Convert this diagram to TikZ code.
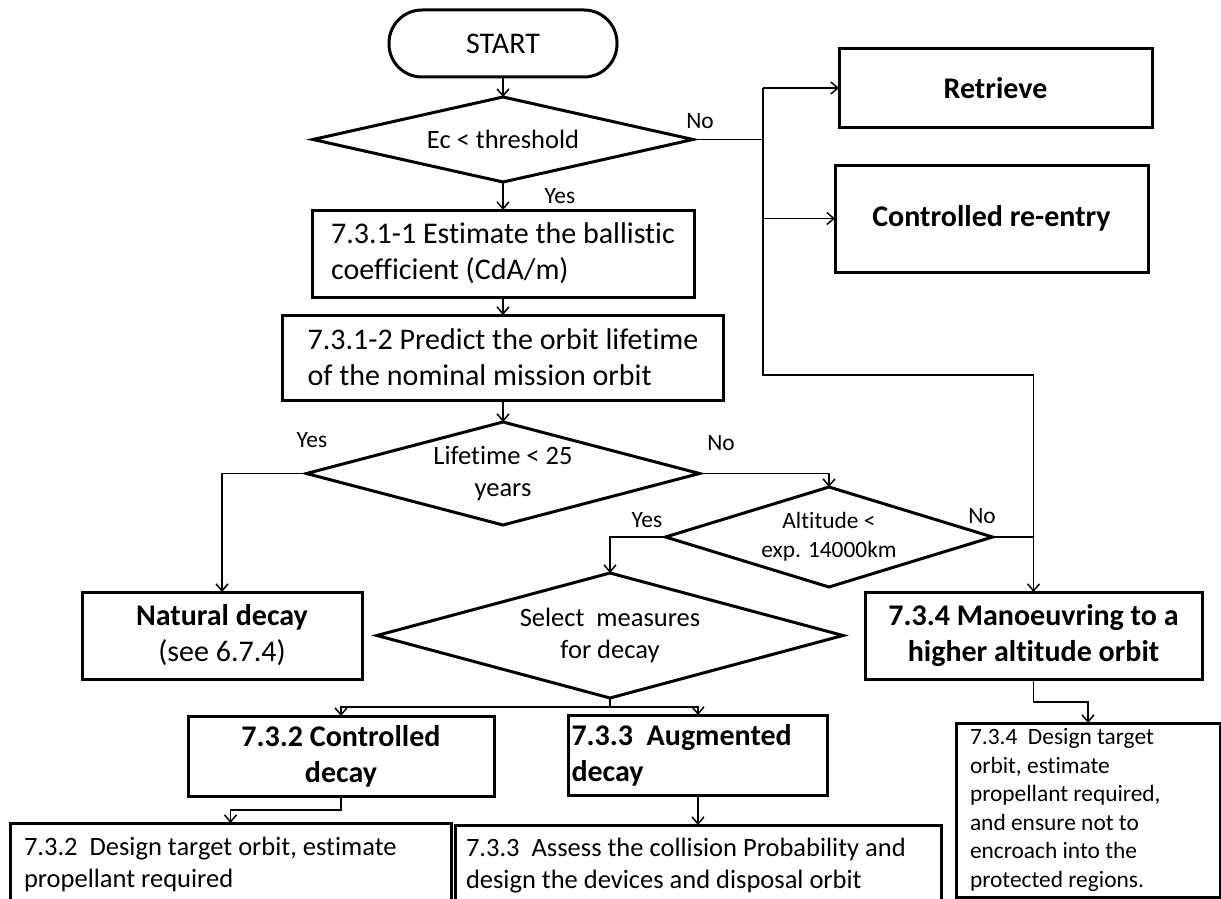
\documentclass[tikz,border=0pt]{standalone}
\usepackage{fontspec}
\setmainfont{Carlito}[Ligatures=NoCommon]
\usetikzlibrary{shapes.geometric,arrows.meta}
\newcommand\fsA{\fontsize{30}{36}\selectfont}
\newcommand\fsB{\fontsize{26.5}{32}\selectfont}
\newcommand\fsC{\fontsize{23.4}{28.5}\selectfont}
\newcommand\fsS{\fontsize{30}{36}\selectfont}
\tikzset{
  box/.style={draw, line width=3pt, rectangle, inner sep=0pt, outer sep=0pt},
  dia/.style={draw, line width=3pt, diamond, inner sep=0pt, outer sep=0pt},
  conn/.style={line width=1.5pt, -{Straight Barb[length=7pt,width=12pt]}},
  plain/.style={line width=1.5pt},
  lbl/.style={font=\fsC, inner sep=0pt, anchor=base},
}
\begin{document}
\begin{tikzpicture}[x=1pt,y=-1pt]
\useasboundingbox (0,0) rectangle (1221,899);
% nodes
\node[box, rounded corners=33pt, minimum width=228pt, minimum height=67pt, font=\fsS] (start) at (503,43.5) {START};
\node[dia, minimum width=380pt, minimum height=85pt, aspect=4.47, font=\fsB] (d1) at (503,139.5) {Ec < threshold};
\node[box, minimum width=382pt, minimum height=87pt, align=flush left, font=\fsA] (b1) at (503,253.5) {7.3.1-1 Estimate the ballistic\\coefficient (CdA/m)};
\node[box, minimum width=441pt, minimum height=85pt, align=flush left, font=\fsA] (b2) at (503,357.5) {7.3.1-2 Predict the orbit lifetime\\of the nominal mission orbit};
\node[dia, minimum width=393pt, minimum height=103pt, aspect=3.8, align=center, font=\fsB] (d2) at (503,473.5) {Lifetime < 25\\years};
\node[box, minimum width=280pt, minimum height=87pt, align=center, font=\fsA] (nat) at (222,635.5) {\textbf{Natural decay}\\(see 6.7.4)};
\node[dia, minimum width=466pt, minimum height=125pt, aspect=3.73, align=center, font=\fsB] (sel) at (610,635.5) {Select\ \ measures\\for decay};
\node[dia, minimum width=327pt, minimum height=100pt, aspect=3.27, align=center, font=\fsC] (alt) at (829,537) {Altitude <\\exp. 14000km};
\node[box, minimum width=313pt, minimum height=79pt, font=\fsA\bfseries] (ret) at (995.5,88) {Retrieve};
\node[box, minimum width=313pt, minimum height=107pt, font=\fsA\bfseries] (cre) at (991.5,218.5) {Controlled re-entry};
\node[box, minimum width=337pt, minimum height=87pt, align=center, font=\fsA\bfseries] (man) at (1033.5,635.5) {7.3.4 Manoeuvring to a\\higher altitude orbit};
\node[box, minimum width=306pt, minimum height=80pt, align=center, font=\fsA\bfseries] (ctl) at (341,756) {7.3.2 Controlled\\decay};
\node[box, text width=253pt, inner xsep=3pt, minimum height=80pt, align=flush left, font=\fsA\bfseries] (aug) at (698,755) {7.3.3\ \ Augmented\\decay};
\node[box, text width=413pt, inner xsep=14pt, minimum height=83pt, align=flush left, font=\fsB] (des2) at (230.5,864.5) {7.3.2\ \ Design target orbit, estimate\\propellant required};
\node[box, text width=464pt, inner xsep=11pt, minimum height=81pt, align=flush left, font=\fsB] (ass) at (698,865.5) {7.3.3\ \ Assess the collision Probability and\\design the devices and disposal orbit};
\node[box, text width=236pt, inner xsep=14pt, minimum height=174pt, align=flush left, font=\fsC] (des4) at (1088,810) {7.3.4\ \ Design target\\orbit, estimate\\propellant required,\\and ensure not to\\encroach into the\\protected regions.};
% labels
\node[lbl] (yes1) at (560,203) {Yes};
\node[lbl] (no1) at (700,128) {No};
\node[lbl] (yes2) at (312,447) {Yes};
\node[lbl] (no2) at (721,450) {No};
\node[lbl] (yes3) at (647,527) {Yes};
\node[lbl] (no3) at (982,523) {No};
% coordinates
\coordinate (busT) at (763,88);
\coordinate (busB) at (763,375);
\coordinate (selj) at (610,707);
\coordinate (c1) at (341,810);
\coordinate (c2) at (1033.5,702);
% connectors
\draw[conn] (start.south) -- (d1.north);
\draw[conn] (d1.south) -- (b1.north);
\draw[conn] (b1.south) -- (b2.north);
\draw[plain] (d1.east) -- (d1.east -| busT);
\draw[conn] (busT) -- (busB) -| (man.north);
\draw[conn] (busT) -- (ret.west);
\draw[conn] (cre.west -| busT) -- (cre.west);
\draw[conn] (b2.south) -- (d2.north);
\draw[conn] (d2.west) -| (nat.north);
\draw[conn] (d2.east) -| (alt.north);
\draw[conn] (alt.west) -| (sel.north);
\draw[plain] (alt.east) -- (alt.east -| man.north);
\draw[plain] (sel.south) -- (selj);
\draw[conn] (selj) -| (ctl.north);
\draw[conn] (selj) -| (aug.north);
\draw[conn] (ctl.south) -- (c1) -| (des2.north);
\draw[conn] (aug.south) -- (ass.north);
\draw[conn] (man.south) -- (c2) -| (des4.north);
\end{tikzpicture}
\end{document}
